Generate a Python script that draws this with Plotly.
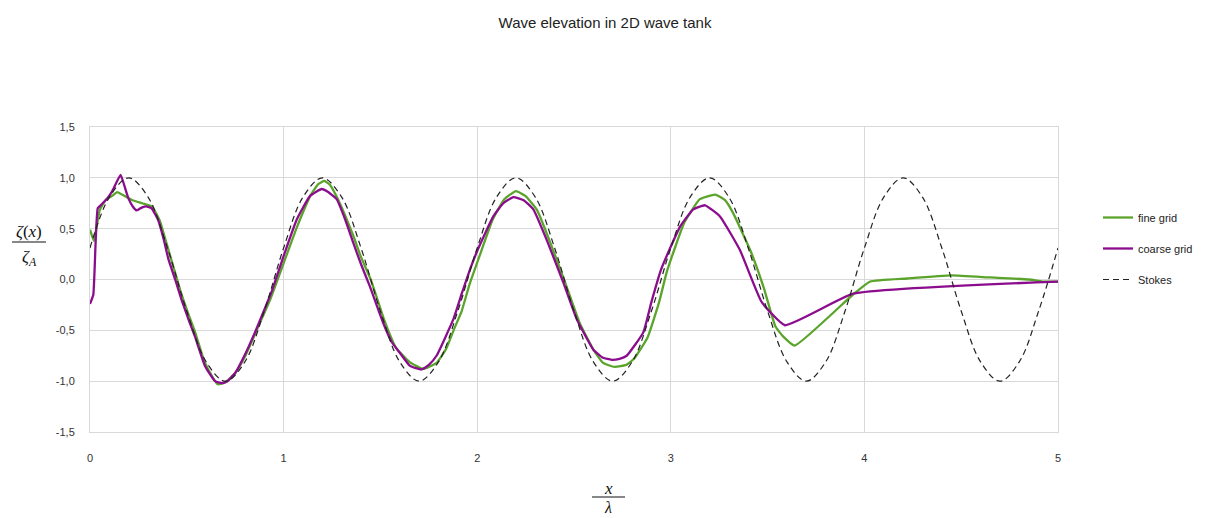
import plotly.graph_objects as go

# ---------------- data ----------------
stokes_x = [0.0, 0.1, 0.2, 0.3, 0.4, 0.5, 0.6, 0.7, 0.8, 0.9,
            1.0, 1.1, 1.2, 1.3, 1.4, 1.5, 1.6, 1.7, 1.8, 1.9,
            2.0, 2.1, 2.2, 2.3, 2.4, 2.5, 2.6, 2.7, 2.8, 2.9,
            3.0, 3.1, 3.2, 3.3, 3.4, 3.5, 3.6, 3.7, 3.8, 3.9,
            4.0, 4.1, 4.2, 4.3, 4.4, 4.5, 4.6, 4.7, 4.8, 4.9, 5.0]
stokes_y = [0.31, 0.81, 1.00, 0.81, 0.31, -0.31, -0.81, -1.00, -0.81, -0.31,
            0.31, 0.81, 1.00, 0.81, 0.31, -0.31, -0.81, -1.00, -0.81, -0.31,
            0.31, 0.81, 1.00, 0.81, 0.31, -0.31, -0.81, -1.00, -0.81, -0.31,
            0.31, 0.81, 1.00, 0.81, 0.31, -0.31, -0.81, -1.00, -0.81, -0.31,
            0.31, 0.81, 1.00, 0.81, 0.31, -0.31, -0.81, -1.00, -0.81, -0.31, 0.31]

fine_x = [0.0, 0.02, 0.05, 0.08, 0.12, 0.14, 0.18, 0.22, 0.27, 0.32, 0.36, 0.39, 0.43, 0.47,
          0.51, 0.54, 0.59, 0.63, 0.66, 0.70, 0.75, 0.80, 0.87, 0.93, 1.0, 1.07, 1.14, 1.18,
          1.21, 1.24, 1.27, 1.32, 1.36, 1.40, 1.45, 1.52, 1.58, 1.65, 1.72, 1.79, 1.84, 1.88,
          1.92, 1.96, 2.01, 2.08, 2.14, 2.20, 2.25, 2.31, 2.38, 2.46, 2.53, 2.60, 2.65, 2.71,
          2.77, 2.81, 2.88, 2.94, 2.98, 3.07, 3.15, 3.23, 3.28, 3.32, 3.41, 3.48, 3.54, 3.58,
          3.64, 3.94, 4.03, 4.22, 4.45, 4.65, 4.85, 4.92, 5.0]
fine_y = [0.49, 0.38, 0.68, 0.78, 0.83, 0.86, 0.82, 0.78, 0.75, 0.72, 0.58, 0.39, 0.13, -0.13,
          -0.35, -0.50, -0.80, -0.95, -1.03, -1.01, -0.92, -0.76, -0.46, -0.20, 0.16, 0.52, 0.83, 0.94,
          0.97, 0.93, 0.83, 0.62, 0.43, 0.22, 0.0, -0.40, -0.67, -0.81, -0.88, -0.82, -0.68, -0.49,
          -0.31, -0.05, 0.22, 0.59, 0.79, 0.87, 0.82, 0.68, 0.35, -0.06, -0.43, -0.69, -0.82, -0.86,
          -0.84, -0.78, -0.57, -0.22, 0.08, 0.56, 0.79, 0.835, 0.78, 0.66, 0.29, -0.08, -0.46, -0.56,
          -0.65, -0.15, -0.02, 0.01, 0.04, 0.02, 0.0, -0.02, -0.02]

coarse_x = [0.0, 0.017, 0.04, 0.06, 0.09, 0.115, 0.158, 0.178, 0.198, 0.22, 0.241, 0.27, 0.29,
            0.318, 0.353, 0.38, 0.405, 0.44, 0.473, 0.51, 0.542, 0.594, 0.646, 0.68, 0.71, 0.75,
            0.80, 0.852, 0.90, 0.938, 1.0, 1.068, 1.136, 1.197, 1.23, 1.274, 1.32, 1.36, 1.40,
            1.446, 1.515, 1.56, 1.60, 1.653, 1.713, 1.75, 1.79, 1.877, 1.92, 1.963, 2.0, 2.083,
            2.135, 2.187, 2.24, 2.29, 2.359, 2.445, 2.514, 2.6, 2.65, 2.695, 2.735, 2.772, 2.858,
            2.90, 2.95, 3.048, 3.116, 3.177, 3.254, 3.357, 3.469, 3.59, 3.943, 5.0]
coarse_y = [-0.24, -0.15, 0.70, 0.74, 0.80, 0.87, 1.03, 0.92, 0.80, 0.72, 0.68, 0.71, 0.72,
            0.70, 0.58, 0.40, 0.20, 0.0, -0.20, -0.40, -0.56, -0.85, -1.0, -1.02, -1.0, -0.92,
            -0.74, -0.52, -0.30, -0.12, 0.23, 0.59, 0.82, 0.89, 0.86, 0.79, 0.58, 0.36, 0.15,
            -0.07, -0.43, -0.62, -0.72, -0.85, -0.885, -0.84, -0.75, -0.39, -0.14, 0.10, 0.28, 0.62,
            0.75, 0.81, 0.78, 0.69, 0.39, -0.03, -0.39, -0.69, -0.77, -0.79, -0.78, -0.75, -0.52,
            -0.22, 0.10, 0.52, 0.69, 0.73, 0.62, 0.29, -0.22, -0.45, -0.14, -0.02]

x_ticks = [0, 1, 2, 3, 4, 5]
y_ticks = [-1.5, -1.0, -0.5, 0.0, 0.5, 1.0, 1.5]
y_tick_labels = ["-1,5", "-1,0", "-0,5", "0,0", "0,5", "1,0", "1,5"]

# ---------------- layout helpers (absolute page pixels) ----------------
PAGE_W, PAGE_H = 1209, 518
OFF = 8                       # default body margin of the html page
W, H = PAGE_W - OFF, PAGE_H - OFF
L, R, T, B = 90, 1058, 127, 432   # plot area in page pixels


def px(xp):
    return (xp - L) / (R - L)


def py(yp):
    return (B - yp) / (B - T)


FONT = "Liberation Sans, Arial, sans-serif"
SERIF = "Liberation Serif, DejaVu Serif, serif"
GRID = "#d9d9d9"

fig = go.Figure()
fig.add_trace(go.Scatter(x=fine_x, y=fine_y, mode="lines", name="fine grid",
                         legendgroup="a",
                         line=dict(color="#5ba42b", width=2.3, shape="spline", smoothing=0.4)))
fig.add_trace(go.Scatter(x=coarse_x, y=coarse_y, mode="lines", name="coarse grid",
                         legendgroup="b",
                         line=dict(color="#8b0d8e", width=2.3, shape="spline", smoothing=0.4)))
fig.add_trace(go.Scatter(x=stokes_x, y=stokes_y, mode="lines", name="Stokes",
                         legendgroup="c", line=dict(color="#222222", width=1.2, dash="6px,4px",
                                                    shape="spline", smoothing=1.0)))

fig.update_layout(
    width=W, height=H,
    margin=dict(l=L - OFF, r=W - (R - OFF), t=T - OFF, b=H - (B - OFF), autoexpand=False),
    paper_bgcolor="white", plot_bgcolor="white",
    separators=", ",
    font=dict(family=FONT, size=11, color="#333333"),
    title=dict(text="Wave elevation in 2D wave tank", x=px(605), xref="paper",
               y=1 - (23 - OFF) / H, yref="container", xanchor="center", yanchor="middle",
               font=dict(family=FONT, size=15, color="#222222")),
    xaxis=dict(range=[0, 5], tickvals=x_ticks, ticktext=[str(v) for v in x_ticks],
               showgrid=True, gridcolor=GRID, gridwidth=1, zeroline=False,
               showline=True, linecolor=GRID, mirror=True, ticks="", ticklabelstandoff=16,
               tickfont=dict(size=11, color="#333333")),
    yaxis=dict(range=[-1.5, 1.5], tickvals=y_ticks, ticktext=y_tick_labels,
               showgrid=True, gridcolor=GRID, gridwidth=1, zeroline=False,
               showline=True, linecolor=GRID, mirror=True, ticks="", ticklabelstandoff=12,
               tickfont=dict(size=11, color="#333333")),
    legend=dict(x=px(1098), y=py(203), xanchor="left", yanchor="top",
                bgcolor="rgba(0,0,0,0)", borderwidth=0, tracegroupgap=12,
                font=dict(family=FONT, size=11, color="#222222")),
    showlegend=True,
)


def label(xp, yp, text, size=17):
    fig.add_annotation(x=px(xp), y=py(yp), xref="paper", yref="paper", showarrow=False,
                       xanchor="center", yanchor="middle", text=text,
                       font=dict(family=SERIF, size=size, color="#111111"))


# y-axis title as a fraction  zeta(x) / zeta_A
label(29, 231, "<i>ζ</i>(<i>x</i>)")
label(29, 258, "<i>ζ<sub>A</sub></i>")
fig.add_shape(type="line", xref="paper", yref="paper", x0=px(12), x1=px(46),
              y0=py(242), y1=py(242), line=dict(color="#111111", width=1))

# x-axis title as a fraction  x / lambda
label(608, 488, "<i>x</i>")
label(608, 507, "<i>λ</i>", size=16)
fig.add_shape(type="line", xref="paper", yref="paper", x0=px(592), x1=px(625),
              y0=py(497), y1=py(497), line=dict(color="#111111", width=1))

fig.write_html("out.html")
